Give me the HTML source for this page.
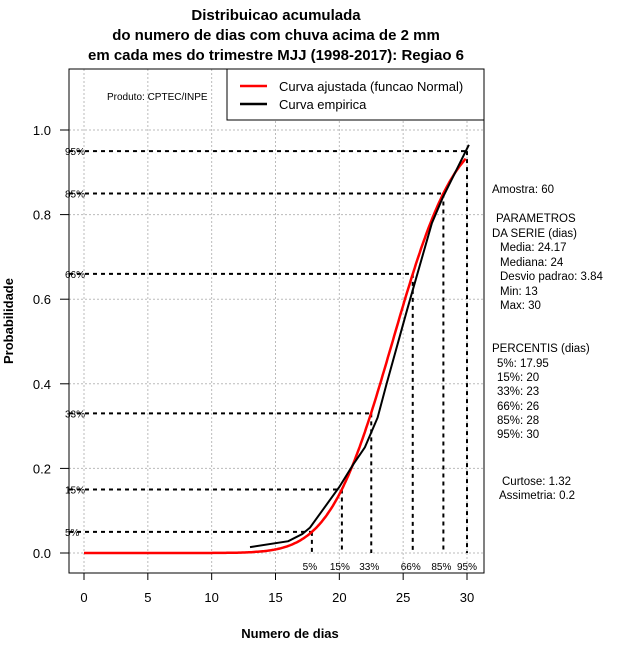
<!DOCTYPE html>
<html><head><meta charset="utf-8"><style>
body{margin:0;background:#fff}
svg{display:block;font-family:"Liberation Sans",sans-serif}
</style></head><body>
<svg id="c" width="640" height="660" viewBox="0 0 640 660">
<g font-weight="bold" font-size="15" text-anchor="middle">
<text x="276" y="20">Distribuicao acumulada</text>
<text x="276" y="40">do numero de dias com chuva acima de 2 mm</text>
<text x="276" y="60">em cada mes do trimestre MJJ (1998-2017): Regiao 6</text>
</g>
<g id="grid"></g>
<g id="pct"></g>
<g id="series"></g>
<rect x="69" y="69" width="415" height="504" fill="none" stroke="#000"/>
<g id="axes" font-size="13"></g>
<text x="290" y="638" font-size="13" font-weight="bold" text-anchor="middle">Numero de dias</text>
<text transform="translate(13,321) rotate(-90)" font-size="13" font-weight="bold" text-anchor="middle">Probabilidade</text>
<text x="107" y="100" font-size="10">Produto: CPTEC/INPE</text>
<g>
<rect x="227" y="69" width="257" height="51" fill="#fff" stroke="#000"/>
<line x1="240" y1="86" x2="267" y2="86" stroke="#f00" stroke-width="2.5"/>
<text x="279" y="91" font-size="13">Curva ajustada (funcao Normal)</text>
<line x1="240" y1="104" x2="267" y2="104" stroke="#000" stroke-width="2.5"/>
<text x="279" y="109" font-size="13">Curva empirica</text>
</g>
<g font-size="11.5">
<text x="492" y="193">Amostra: 60</text>
<text x="496" y="222">PARAMETROS</text>
<text x="492" y="237">DA SERIE (dias)</text>
<text x="500" y="251">Media: 24.17</text>
<text x="500" y="266">Mediana: 24</text>
<text x="500" y="280">Desvio padrao: 3.84</text>
<text x="500" y="295">Min: 13</text>
<text x="500" y="309">Max: 30</text>
<text x="492" y="352">PERCENTIS (dias)</text>
<text x="497" y="367">5%: 17.95</text>
<text x="497" y="381">15%: 20</text>
<text x="497" y="395">33%: 23</text>
<text x="497" y="410">66%: 26</text>
<text x="497" y="424">85%: 28</text>
<text x="497" y="438">95%: 30</text>
<text x="502" y="485">Curtose: 1.32</text>
<text x="499" y="499">Assimetria: 0.2</text>
</g>
</svg>
<script>
const xTicks=[0,5,10,15,20,25,30];
const yTicks=[0,0.2,0.4,0.6,0.8,1.0];
const empX=[13,16,17.1,17.7,20,21.1,22,23,23.7,25.3,27.25,28.1,30.15];
const empY=[0.014,0.028,0.045,0.06,0.156,0.21,0.25,0.32,0.40,0.574,0.78,0.84,0.965];
const fitMean=24.17, fitSd=3.84;
const pctLabels=["5%","15%","33%","66%","85%","95%"];
const pctProb=[0.05,0.15,0.33,0.66,0.85,0.95];
const pctX=[17.85,20.2,22.5,25.75,28.15,30];
const NS="http://www.w3.org/2000/svg";
const X=v=>84+v*(467-84)/30, Y=p=>553-p*423;
function mk(t,a,parent){const e=document.createElementNS(NS,t);for(const k in a)e.setAttribute(k,a[k]);parent.appendChild(e);return e;}
const grid=document.getElementById('grid'),axes=document.getElementById('axes'),pct=document.getElementById('pct'),ser=document.getElementById('series');
xTicks.forEach(v=>{
 const g=mk('line',{x1:X(v),x2:X(v),y1:69,y2:573,stroke:'#bbb','stroke-dasharray':'2,2'},grid);
 
 const t=mk('line',{x1:X(v),x2:X(v),y1:573,y2:580,stroke:'#000'},axes);
 
 const l=mk('text',{x:X(v),y:602,'text-anchor':'middle'},axes);l.textContent=v;
 
});
yTicks.forEach(v=>{
 const g=mk('line',{x1:69,x2:484,y1:Y(v),y2:Y(v),stroke:'#bbb','stroke-dasharray':'2,2'},grid);
 
 const t=mk('line',{x1:60,x2:69,y1:Y(v),y2:Y(v),stroke:'#000'},axes);
 
 const l=mk('text',{x:51,y:Y(v)+5,'text-anchor':'end'},axes);l.textContent=v.toFixed(1);
 
});
pctProb.forEach((p,i)=>{
 const h=mk('line',{x1:69,x2:X(pctX[i]),y1:Y(p),y2:Y(p),stroke:'#000','stroke-width':2,'stroke-dasharray':'4,4'},pct);
 
 const v=mk('line',{x1:X(pctX[i]),x2:X(pctX[i]),y1:Y(p),y2:553,stroke:'#000','stroke-width':2,'stroke-dasharray':'4,4'},pct);
 
 const a=mk('text',{x:65,y:Y(p)+4,'font-size':10},pct);a.textContent=pctLabels[i];
 
 const b=mk('text',{x:X(pctX[i])-(i==5?0:2),y:570,'font-size':10,'text-anchor':'middle'},pct);b.textContent=pctLabels[i];
 
});
function erf(x){const s=Math.sign(x);x=Math.abs(x);const t=1/(1+0.3275911*x);const y=1-(((((1.061405429*t-1.453152027)*t)+1.421413741)*t-0.284496736)*t+0.254829592)*t*Math.exp(-x*x);return s*y;}
let d='';for(let v=0;v<=30;v+=0.1){const p=0.5*(1+erf((v-fitMean)/(fitSd*Math.SQRT2)));d+=(d?'L':'M')+X(v).toFixed(1)+','+Y(p).toFixed(1);}
const fit=mk('path',{d:d,fill:'none',stroke:'#f00','stroke-width':2.5},ser);

const ed=empX.map((v,i)=>(i?'L':'M')+X(v).toFixed(1)+','+Y(empY[i]).toFixed(1)).join('');
const emp=mk('path',{d:ed,fill:'none',stroke:'#000','stroke-width':2},ser);

</script>
</body></html>
